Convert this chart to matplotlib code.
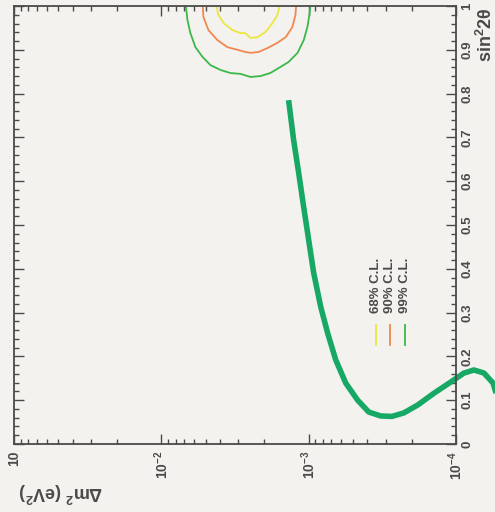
import matplotlib
matplotlib.use("Agg")
import matplotlib.pyplot as plt
from matplotlib.ticker import MultipleLocator, FixedLocator, FixedFormatter

# the picture is the usual exclusion plot turned 90 degrees:
# horizontal axis = dm^2 (eV^2, log, reversed), vertical axis = sin^2(2theta)

# allowed regions (closed at sin^2 2theta = 1)
c99_dm2 = [6.87e-3, 6.65e-3, 6.35e-3, 5.87e-3, 5.26e-3, 4.64e-3, 3.97e-3, 3.40e-3, 2.90e-3, 2.48e-3,
           2.12e-3, 1.82e-3, 1.55e-3, 1.37e-3, 1.19e-3, 1.08e-3, 1.02e-3, 9.84e-4, 9.68e-4]
c99_s2 = [1.01, 0.968, 0.938, 0.906, 0.884, 0.865, 0.854, 0.847, 0.845, 0.838,
          0.840, 0.847, 0.861, 0.872, 0.893, 0.922, 0.952, 0.984, 1.01]
c90_dm2 = [5.26e-3, 5.18e-3, 4.79e-3, 4.16e-3, 3.56e-3, 3.04e-3, 2.69e-3, 2.48e-3, 2.19e-3, 1.90e-3,
           1.63e-3, 1.43e-3, 1.29e-3, 1.23e-3, 1.21e-3]
c90_s2 = [1.01, 0.975, 0.945, 0.922, 0.906, 0.900, 0.895, 0.893, 0.895, 0.904,
          0.916, 0.929, 0.952, 0.979, 1.01]
c68_dm2 = [4.30e-3, 4.09e-3, 3.78e-3, 3.29e-3, 2.90e-3, 2.69e-3, 2.48e-3, 2.22e-3, 1.96e-3, 1.76e-3,
           1.63e-3, 1.55e-3]
c68_s2 = [1.01, 0.979, 0.961, 0.945, 0.938, 0.938, 0.927, 0.929, 0.941, 0.961, 0.979, 1.01]

# thick exclusion curve
excl_dm2 = [1.368e-3, 1.265e-3, 1.169e-3, 1.081e-3, 1.000e-3, 9.25e-4, 8.28e-4, 7.43e-4, 6.55e-4, 5.60e-4,
            4.65e-4, 3.91e-4, 3.24e-4, 2.72e-4, 2.26e-4, 1.82e-4, 1.41e-4, 1.08e-4, 8.83e-5, 7.55e-5,
            6.46e-5, 5.60e-5, 5.18e-5, 4.94e-5]
excl_s2 = [0.785, 0.694, 0.619, 0.541, 0.466, 0.391, 0.313, 0.253, 0.192, 0.139,
           0.100, 0.073, 0.064, 0.063, 0.071, 0.089, 0.116, 0.142, 0.162, 0.169,
           0.162, 0.139, 0.100, 0.032]

x_ticks = [1e-1, 1e-2, 1e-3, 1e-4]
x_ticklabels = ['10', r'$10^{-2}$', r'$10^{-3}$', r'$10^{-4}$']
y_ticks = [0, 0.1, 0.2, 0.3, 0.4, 0.5, 0.6, 0.7, 0.8, 0.9, 1]
y_ticklabels = ['0', '0.1', '0.2', '0.3', '0.4', '0.5', '0.6', '0.7', '0.8', '0.9', '1']

legend_names = ['68% C.L.', '90% C.L.', '99% C.L.']
legend_cols = ['#ece640', '#f08850', '#3cb84a']

paper = '#f4f2ee'
ink = '#4a4a4a'

plt.rcParams['font.family'] = ['Liberation Sans', 'DejaVu Sans']
plt.rcParams['mathtext.fontset'] = 'custom'
plt.rcParams['mathtext.rm'] = 'Liberation Sans:bold'
plt.rcParams['mathtext.it'] = 'Liberation Sans:bold'

fig = plt.figure(figsize=(4.95, 5.12), dpi=100, facecolor=paper)
ax = fig.add_axes([0.0283, 0.1328, 0.8929, 0.8555], facecolor=paper)

ax.set_xscale('log')
ax.set_xlim(1e-1, 1e-4)
ax.set_ylim(0, 1)

# contours
ax.plot(c99_dm2, c99_s2, color=legend_cols[2], lw=1.3, solid_joinstyle='round')
ax.plot(c90_dm2, c90_s2, color=legend_cols[1], lw=1.3, solid_joinstyle='round')
ax.plot(c68_dm2, c68_s2, color=legend_cols[0], lw=1.3, solid_joinstyle='round')

# exclusion curve runs past the frame in the original
ax.plot(excl_dm2, excl_s2, color='#17a866', lw=4.0, solid_capstyle='butt',
        solid_joinstyle='round', clip_on=False)

# ticks
ax.xaxis.set_major_locator(FixedLocator(x_ticks))
ax.xaxis.set_major_formatter(FixedFormatter(x_ticklabels))
ax.yaxis.set_major_locator(FixedLocator(y_ticks))
ax.yaxis.set_major_formatter(FixedFormatter(y_ticklabels))
ax.yaxis.set_minor_locator(MultipleLocator(0.02))
ax.yaxis.tick_right()
ax.tick_params(which='both', direction='in', top=True, bottom=True, left=True, right=True,
               color=ink, width=1.0)
ax.tick_params(which='major', length=7)
ax.tick_params(which='minor', length=3.5)
ax.tick_params(axis='x', which='major', labelsize=10, labelcolor=ink, pad=5)
ax.tick_params(axis='y', which='major', labelsize=9.5, labelcolor=ink, pad=4)
for lab in ax.get_xticklabels():
    lab.set_rotation(90)
    lab.set_fontweight('bold')
for lab in ax.get_yticklabels():
    lab.set_rotation(90)
    lab.set_va('center')
    lab.set_fontweight('bold')

for s in ax.spines.values():
    s.set_color(ink)
    s.set_linewidth(1.3)

# axis titles
ax.text(1.068, 0.935, r'sin$^2$2$\theta$', transform=ax.transAxes, rotation=90,
        ha='center', va='center', fontsize=13, fontweight='bold', color=ink)
ax.text(0.105, -0.11, r'$\Delta$m$^2$ (eV$^2$)', transform=ax.transAxes, rotation=180,
        ha='center', va='center', fontsize=13, fontweight='bold', color=ink)

# legend (rotated)
lx = [0.819, 0.851, 0.885]
for i in range(3):
    ax.plot([lx[i], lx[i]], [0.226, 0.272], transform=ax.transAxes, color=legend_cols[i], lw=1.3)
    ax.text(lx[i], 0.300, legend_names[i], transform=ax.transAxes, rotation=90,
            ha='center', va='bottom', fontsize=9.5, fontweight='bold', color=ink)

fig.savefig('out.png', dpi=100, facecolor=paper)
